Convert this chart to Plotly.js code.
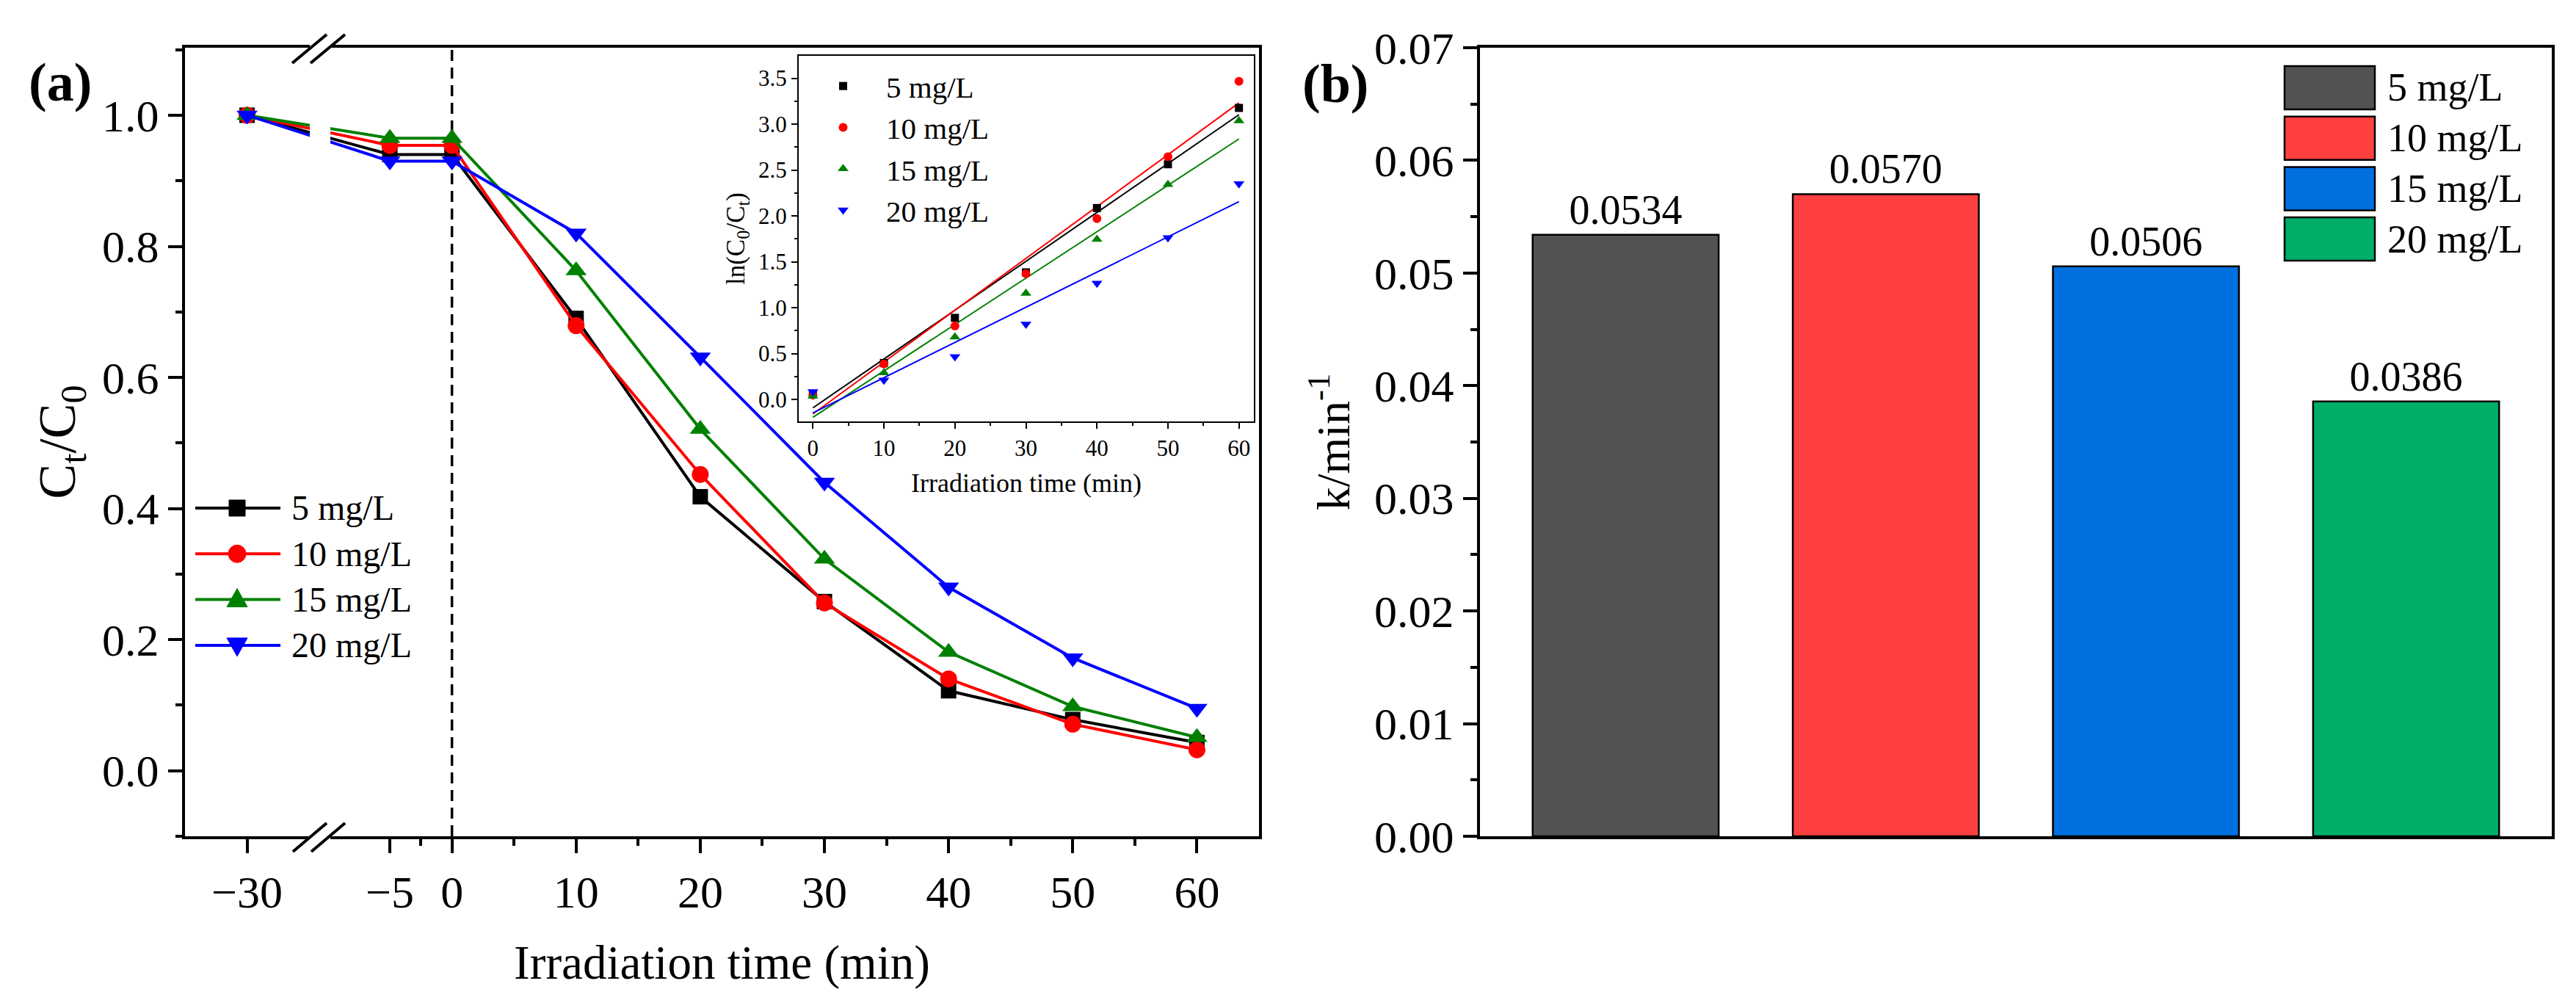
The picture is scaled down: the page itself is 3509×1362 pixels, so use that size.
<!DOCTYPE html>
<html>
<head>
<meta charset="utf-8">
<script src="https://cdn.plot.ly/plotly-3.0.1.min.js"></script>
<style>
html,body{margin:0;padding:0;background:#ffffff;}
#chart{width:3509px;height:1362px;}
</style>
</head>
<body>
<div id="chart"></div>
<script>
// ---------------- data ----------------
const seriesNames = ['5 mg/L', '10 mg/L', '15 mg/L', '20 mg/L'];

// (a) main panel: Ct/C0 vs irradiation time
const timeMin = [-30, -5, 0, 10, 20, 30, 40, 50, 60];
const ratio5  = [1.000, 0.940, 0.940, 0.690, 0.418, 0.258, 0.122, 0.078, 0.043];
const ratio10 = [1.000, 0.954, 0.954, 0.679, 0.452, 0.256, 0.140, 0.071, 0.032];
const ratio15 = [1.000, 0.965, 0.965, 0.763, 0.521, 0.323, 0.181, 0.098, 0.051];
const ratio20 = [1.000, 0.930, 0.930, 0.820, 0.631, 0.440, 0.280, 0.172, 0.095];

// (a) inset: ln(C0/Ct) vs time, with linear fits
const insetTime = [0, 10, 20, 30, 40, 50, 60];
const ln5  = [0.062, 0.397, 0.889, 1.385, 2.086, 2.563, 3.177];
const ln10 = [0.047, 0.386, 0.800, 1.370, 1.970, 2.644, 3.467];
const ln15 = [0.036, 0.290, 0.680, 1.157, 1.744, 2.343, 3.037];
const ln20 = [0.085, 0.210, 0.466, 0.820, 1.267, 1.763, 2.350];
const fitTime = [0, 60];
const fit5  = [-0.092, 3.103];
const fit10 = [-0.158, 3.232];
const fit15 = [-0.195, 2.839];
const fit20 = [-0.147, 2.156];

// (b) rate constants
const rateK = [0.0534, 0.0570, 0.0506, 0.0386];
const rateLabels = ['0.0534', '0.0570', '0.0506', '0.0386'];

// axis ticks
const mainTickVals = [-30, -5, 0, 10, 20, 30, 40, 50, 60];
const mainTickText = ['\u221230', '\u22125', '0', '10', '20', '30', '40', '50', '60'];
const mainMinorVals = [-2.5, 5, 15, 25, 35, 45, 55];

// ---------------- styles ----------------
const lineColors = ['#000000', '#FF0000', '#008000', '#0000FF'];
const symbols = ['square', 'circle', 'triangle-up', 'triangle-down'];
const mainSizes = [21, 23, 25, 25];
const insetSizes = [11, 12, 13, 13];
const barColors = ['#525252', '#FF4040', '#0070E0', '#00AE68'];
const FONT = 'Liberation Serif, Times New Roman, serif';

// broken x axis (a): values left of the break are shifted right
const BREAK_LEFT = -24, BREAK_RIGHT = -10.5;
function brk(t) { return t <= BREAK_LEFT ? t + (BREAK_RIGHT - BREAK_LEFT) : t; }

const W = 3509, H = 1362;
const PX = x => x / W;
const PY = y => 1 - y / H;

const ratios = [ratio5, ratio10, ratio15, ratio20];
const lns = [ln5, ln10, ln15, ln20];
const fits = [fit5, fit10, fit15, fit20];

const traces = [];
// main curves
ratios.forEach((r, i) => {
  traces.push({
    type: 'scatter', mode: 'lines+markers', name: seriesNames[i],
    x: timeMin.map(brk), y: r, xaxis: 'x', yaxis: 'y',
    line: {color: lineColors[i], width: 4},
    marker: {symbol: symbols[i], size: mainSizes[i], color: lineColors[i]},
    showlegend: false, cliponaxis: false
  });
});
// inset fit lines
fits.forEach((f, i) => {
  traces.push({
    type: 'scatter', mode: 'lines', x: fitTime, y: f, xaxis: 'x2', yaxis: 'y2',
    line: {color: lineColors[i], width: 2}, showlegend: false
  });
});
// inset points
lns.forEach((v, i) => {
  traces.push({
    type: 'scatter', mode: 'markers', name: seriesNames[i],
    x: insetTime, y: v, xaxis: 'x2', yaxis: 'y2',
    marker: {symbol: symbols[i], size: insetSizes[i], color: lineColors[i]},
    showlegend: true, cliponaxis: false
  });
});
// bars
traces.push({
  type: 'bar', x: seriesNames, y: rateK, xaxis: 'x3', yaxis: 'y3',
  width: 0.715,
  marker: {color: barColors, line: {color: '#000000', width: 2.5}},
  text: rateLabels, textposition: 'outside', cliponaxis: false,
  textfont: {family: FONT, size: 56, color: '#000000'},
  showlegend: false
});

const axisCommon = {
  showgrid: false, zeroline: false, showline: true, linecolor: '#000000',
  mirror: true, ticks: 'outside', tickcolor: '#000000'
};

const shapes = [];
const annotations = [];

// dashed line at t = 0
shapes.push({type: 'line', xref: 'x', yref: 'y domain', x0: brk(0), x1: brk(0), y0: 0, y1: 1,
  line: {color: '#000000', width: 3.5, dash: '15px,9px'}, layer: 'below'});

// axis break gap and marks
shapes.push({type: 'rect', xref: 'paper', yref: 'paper', x0: PX(422), x1: PX(450), y0: PY(1152), y1: PY(52),
  fillcolor: '#ffffff', line: {width: 0}, layer: 'above'});
[[398, 86, 445, 47], [423, 86, 470, 47], [399, 1160, 445, 1121], [424, 1160, 470, 1121]].forEach(s => {
  shapes.push({type: 'line', xref: 'paper', yref: 'paper', x0: PX(s[0]), y0: PY(s[1]), x1: PX(s[2]), y1: PY(s[3]),
    line: {color: '#000000', width: 4}, layer: 'above'});
});

// legend (a): line + marker glyphs
const legA = {x0: 266, x1: 382, xm: 323, y: 692, dy: 62.3, tx: 395};
seriesNames.forEach((n, i) => {
  const y = legA.y + i * legA.dy;
  shapes.push({type: 'line', xref: 'paper', yref: 'paper', x0: PX(legA.x0), x1: PX(legA.x1), y0: PY(y), y1: PY(y),
    line: {color: lineColors[i], width: 4}, layer: 'above'});
  const c = lineColors[i], xm = legA.xm;
  let shp;
  if (symbols[i] === 'square') {
    shp = {type: 'rect', x0: PX(xm - 11), x1: PX(xm + 11), y0: PY(y + 11), y1: PY(y - 11)};
  } else if (symbols[i] === 'circle') {
    shp = {type: 'circle', x0: PX(xm - 12), x1: PX(xm + 12), y0: PY(y + 12), y1: PY(y - 12)};
  } else if (symbols[i] === 'triangle-up') {
    shp = {type: 'path', path: `M ${PX(xm - 14)} ${PY(y + 10)} L ${PX(xm + 14)} ${PY(y + 10)} L ${PX(xm)} ${PY(y - 15)} Z`};
  } else {
    shp = {type: 'path', path: `M ${PX(xm - 14)} ${PY(y - 10)} L ${PX(xm + 14)} ${PY(y - 10)} L ${PX(xm)} ${PY(y + 15)} Z`};
  }
  Object.assign(shp, {xref: 'paper', yref: 'paper', fillcolor: c, line: {color: c, width: 1}, layer: 'above'});
  shapes.push(shp);
  annotations.push({xref: 'paper', yref: 'paper', x: PX(legA.tx), y: PY(y), xanchor: 'left', yanchor: 'middle',
    text: n, showarrow: false, font: {family: FONT, size: 48, color: '#000000'}});
});

// legend (b): colour boxes
const legB = {x0: 3112, x1: 3235, top: 90, h: 59, dy: 68.7, tx: 3250};
seriesNames.forEach((n, i) => {
  const t = legB.top + i * legB.dy;
  shapes.push({type: 'rect', xref: 'paper', yref: 'paper', x0: PX(legB.x0), x1: PX(legB.x1), y0: PY(t + legB.h), y1: PY(t),
    fillcolor: barColors[i], line: {color: '#000000', width: 2.5}, layer: 'above'});
  annotations.push({xref: 'paper', yref: 'paper', x: PX(legB.tx), y: PY(t + legB.h / 2), xanchor: 'left', yanchor: 'middle',
    text: n, showarrow: false, font: {family: FONT, size: 54, color: '#000000'}});
});

// panel labels
annotations.push({xref: 'paper', yref: 'paper', x: PX(82), y: PY(112), xanchor: 'center', yanchor: 'middle',
  text: '<b>(a)</b>', showarrow: false, font: {family: FONT, size: 74, color: '#000000'}});
annotations.push({xref: 'paper', yref: 'paper', x: PX(1819), y: PY(114), xanchor: 'center', yanchor: 'middle',
  text: '<b>(b)</b>', showarrow: false, font: {family: FONT, size: 74, color: '#000000'}});

const layout = {
  width: W, height: H,
  margin: {l: 0, r: 0, t: 0, b: 0, pad: 0},
  paper_bgcolor: '#ffffff', plot_bgcolor: 'rgba(0,0,0,0)',
  font: {family: FONT, color: '#000000'},
  showlegend: true,
  legend: {
    x: PX(1090), y: PY(84), xanchor: 'left', yanchor: 'top',
    bgcolor: 'rgba(0,0,0,0)', borderwidth: 0, itemwidth: 107,
    font: {family: FONT, size: 41, color: '#000000'}, tracegroupgap: 0
  },
  xaxis: Object.assign({}, axisCommon, {
    domain: [PX(252), PX(1715)], anchor: 'y', range: [brk(-35), 65],
    tickmode: 'array', tickvals: mainTickVals.map(brk), ticktext: mainTickText,
    ticklen: 19, tickwidth: 4, linewidth: 4,
    minor: {tickmode: 'array', tickvals: mainMinorVals.map(brk), ticks: 'outside', ticklen: 9, tickwidth: 4, tickcolor: '#000000'},
    tickfont: {family: FONT, size: 62},
    title: {text: 'Irradiation time (min)', font: {family: FONT, size: 65}, standoff: 40}
  }),
  yaxis: Object.assign({}, axisCommon, {
    domain: [PY(1139), PY(65)], anchor: 'x', range: [-0.1, 1.103],
    tickmode: 'linear', tick0: 0, dtick: 0.2, tickformat: '.1f',
    ticklen: 19, tickwidth: 4, linewidth: 4,
    minor: {tick0: 0, dtick: 0.1, ticks: 'outside', ticklen: 9, tickwidth: 4, tickcolor: '#000000'},
    tickfont: {family: FONT, size: 62},
    title: {text: 'C<sub>t</sub>/C<sub>0</sub>', font: {family: FONT, size: 72}, standoff: 14}
  }),
  xaxis2: Object.assign({}, axisCommon, {
    domain: [PX(1088), PX(1708)], anchor: 'y2', range: [-2, 62.1],
    tickmode: 'linear', tick0: 0, dtick: 10,
    ticklen: 8, tickwidth: 2, linewidth: 2,
    minor: {tick0: 0, dtick: 5, ticks: 'outside', ticklen: 4, tickwidth: 2, tickcolor: '#000000'},
    tickfont: {family: FONT, size: 31},
    title: {text: 'Irradiation time (min)', font: {family: FONT, size: 36}, standoff: 18}
  }),
  yaxis2: Object.assign({}, axisCommon, {
    domain: [PY(574), PY(76)], anchor: 'x2', range: [-0.24, 3.745],
    tickmode: 'linear', tick0: 0, dtick: 0.5, tickformat: '.1f',
    ticklen: 8, tickwidth: 2, linewidth: 2,
    minor: {tick0: 0, dtick: 0.25, ticks: 'outside', ticklen: 4, tickwidth: 2, tickcolor: '#000000'},
    tickfont: {family: FONT, size: 31},
    title: {text: 'ln(C<sub>0</sub>/C<sub>t</sub>)', font: {family: FONT, size: 35}, standoff: 8}
  }),
  xaxis3: Object.assign({}, axisCommon, {
    domain: [PX(2016), PX(3476)], anchor: 'y3', type: 'category', range: [-0.56, 3.56],
    ticks: '', showticklabels: false, linewidth: 4
  }),
  yaxis3: Object.assign({}, axisCommon, {
    domain: [PY(1139), PY(65)], anchor: 'x3', range: [0, 0.07],
    tickmode: 'linear', tick0: 0, dtick: 0.01, tickformat: '.2f',
    ticklen: 19, tickwidth: 4, linewidth: 4,
    minor: {tick0: 0, dtick: 0.005, ticks: 'outside', ticklen: 9, tickwidth: 4, tickcolor: '#000000'},
    tickfont: {family: FONT, size: 62},
    title: {text: 'k/min<sup>-1</sup>', font: {family: FONT, size: 64}, standoff: 14}
  }),
  shapes: shapes,
  annotations: annotations
};

Plotly.newPlot('chart', traces, layout, {displayModeBar: false, staticPlot: true});
</script>
</body>
</html>
